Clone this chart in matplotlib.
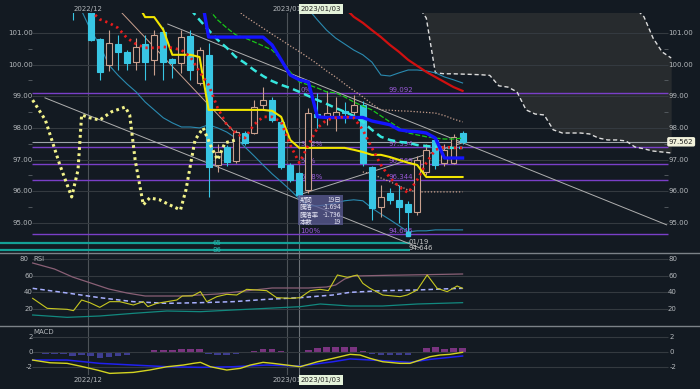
import matplotlib
matplotlib.use("Agg")
import matplotlib.pyplot as plt
from matplotlib.patches import Rectangle
from matplotlib.lines import Line2D

plt.rcParams['font.family'] = ['DejaVu Sans', 'Noto Sans CJK JP']

# ---------------- data ----------------
# bar index k (0 = first bar of 2022/12)
candle_k = list(range(-2, 42))
opens = [101.95, 102.30, 101.95, 100.81, 100.00, 100.65, 100.40, 100.08, 100.65, 100.15,
         101.03, 100.18, 100.05, 100.90, 99.42, 100.30, 96.83, 97.40, 96.95, 97.84,
         97.84, 98.73, 98.88, 98.19, 96.83, 96.58, 96.04, 98.44, 98.35, 98.35,
         98.54, 98.51, 98.73, 96.77, 95.51, 95.95, 95.73, 95.60, 95.35, 96.61,
         97.62, 96.90, 96.90, 97.84]
highs = [102.10, 102.50, 102.00, 100.85, 101.09, 100.94, 100.45, 100.84, 100.93, 101.10,
         101.20, 100.20, 101.10, 101.10, 100.55, 100.68, 97.50, 97.45, 97.95, 97.90,
         98.88, 99.29, 98.98, 98.25, 96.90, 96.62, 98.63, 99.11, 99.17, 98.98,
         98.82, 99.05, 98.85, 96.80, 96.20, 96.10, 96.20, 95.70, 97.10, 97.50,
         97.70, 97.50, 97.80, 97.90]
lows = [101.42, 101.80, 100.76, 99.52, 99.80, 99.83, 99.83, 99.83, 99.52, 99.67,
        99.52, 99.57, 99.74, 99.52, 99.35, 95.82, 96.60, 96.80, 96.90, 97.45,
        97.80, 98.57, 98.20, 96.70, 96.30, 95.82, 95.95, 98.00, 98.10, 97.90,
        98.16, 98.30, 96.80, 95.10, 95.19, 95.60, 95.00, 94.646, 95.25, 96.50,
        96.70, 96.80, 96.85, 97.50]
closes = [101.70, 102.00, 100.78, 99.77, 100.68, 100.40, 100.05, 100.55, 100.08, 100.94,
          100.08, 100.05, 100.87, 99.83, 100.46, 96.77, 97.24, 96.93, 97.87, 97.53,
          98.66, 98.88, 98.25, 96.77, 96.36, 95.88, 98.47, 98.35, 98.47, 98.51,
          98.47, 98.73, 96.90, 95.47, 95.82, 95.73, 95.51, 95.35, 96.99, 97.31,
          96.83, 97.31, 97.72, 97.562]
last_price = 97.562

ma5_k = list(range(0, 42))
ma5 = [101.70, 101.43, 101.32, 101.16, 100.84, 100.65, 100.53, 100.53, 100.56, 100.53,
       100.46, 100.24, 99.77, 99.36, 98.63, 98.10, 97.84, 97.68, 98.10, 98.35,
       98.35, 98.19, 97.46, 96.90, 97.46, 98.00, 98.25, 98.32, 98.35, 98.32,
       97.94, 97.37, 96.83, 96.42, 96.14, 95.95, 96.36, 96.90, 97.31, 97.40,
       97.37, 97.37]

tenkan_k = list(range(5, 42))
tenkan = [102.00, 101.50, 101.50, 101.10, 100.31, 100.31, 100.31, 100.24, 98.57, 98.57,
          98.57, 98.57, 98.57, 98.57, 98.57, 98.54, 98.35, 97.62, 97.37, 97.37,
          97.37, 97.37, 97.37, 97.37, 97.31, 97.24, 97.15, 97.15, 97.08, 96.99,
          96.90, 96.83, 96.45, 96.45, 96.45, 96.45, 96.45]

kijun_k = list(range(12, 42))
kijun = [102.50, 100.87, 100.87, 100.87, 100.87, 100.87, 100.87, 100.87, 100.62, 100.15,
         99.67, 99.52, 99.45, 98.35, 98.33, 98.33, 98.33, 98.33, 98.33, 98.22,
         98.16, 98.10, 97.94, 97.90, 97.88, 97.84, 97.68, 97.05, 97.05, 97.05]

ma25_k = list(range(13, 42))
ma25 = [101.75, 101.41, 101.16, 100.94, 100.84, 100.72, 100.59, 100.46, 100.15, 99.77,
        99.45, 99.36, 99.26, 99.14, 99.11, 98.98, 98.82, 98.69, 98.57, 98.38,
        98.19, 98.00, 97.84, 97.78, 97.72, 97.68, 97.65, 97.65, 97.68]

ma_cyan_k = list(range(11, 42))
ma_cyan = [101.75, 101.41, 101.09, 100.78, 100.53, 100.24, 100.05, 99.83, 99.64, 99.48,
           99.36, 99.26, 99.14, 99.01, 98.88, 98.76, 98.63, 98.51, 98.38, 98.19,
           97.94, 97.72, 97.62, 97.56, 97.53, 97.46, 97.43, 97.40, 97.37, 97.37,
           97.37]

ma75_k = list(range(28, 42))
ma75 = [101.80, 101.51, 101.32, 101.09, 100.87, 100.62, 100.40, 100.15, 99.96, 99.77,
        99.61, 99.45, 99.29, 99.17]

bb_up2_k = list(range(24, 42))
bb_up2 = [101.75, 101.41, 101.09, 100.84, 100.65, 100.46, 100.31, 100.08, 99.67, 99.64,
          99.74, 99.83, 99.83, 99.80, 99.74, 99.61, 99.52, 99.42]

bb_up1_k = list(range(16, 42))
bb_up1 = [101.75, 101.53, 101.34, 101.15, 100.96, 100.78, 100.59, 100.41, 100.22, 100.02,
          99.80, 99.61, 99.39, 99.18, 98.98, 98.76, 98.57, 98.56, 98.54, 98.53,
          98.51, 98.49, 98.47, 98.39, 98.28, 98.19]

bb_lo2_k = list(range(-1, 42))
bb_lo2 = [101.70, 101.09, 100.62, 99.99, 99.67, 99.39, 99.14, 98.82, 98.57, 98.32,
          98.16, 98.03, 98.03, 98.00, 98.10, 98.00, 97.87, 97.68, 97.40, 97.12,
          96.83, 96.55, 96.30, 96.04, 95.76, 95.54, 95.54, 95.57, 95.63, 95.70,
          95.73, 95.70, 95.47, 95.28, 95.10, 94.91, 94.72, 94.75, 94.75, 94.78,
          94.78, 94.78, 94.78]

bb_lo1_k = list(range(30, 42))
bb_lo1 = [96.61, 96.55, 96.42, 96.30, 96.17, 96.04, 95.98, 95.98, 95.98, 95.98,
          95.98, 95.98]

chikou_k = [-6.4, -5.0, -3.4, -2.1, -1.4, -1.0, -0.1, 1.0, 2.3, 3.8, 4.3, 4.9, 5.8,
            6.5, 7.6, 8.7, 9.9, 10.5, 11.5, 12.4, 13.2, 14.0, 14.8, 16.0]
chikou = [98.88, 98.25, 96.83, 95.82, 96.67, 98.41, 98.32, 98.25, 98.51, 98.66, 98.41,
          96.99, 95.57, 95.79, 95.73, 95.57, 95.41, 96.04, 97.62, 98.00, 97.46, 96.99,
          97.53, 97.62]

cloud_k = list(range(36, 65))
span_a = [104.0, 103.9, 103.8, 103.7, 103.6, 103.5, 103.4, 103.3, 103.2, 103.1,
          103.0, 102.9, 102.8, 102.7, 102.6, 102.5, 102.4, 102.3, 102.2, 102.1,
          102.0, 101.95, 101.9, 101.85, 101.8, 101.51, 100.84, 100.40, 100.21]
span_b = [101.90, 101.47, 99.74, 99.71, 99.71, 99.70, 99.69, 99.68, 99.66, 99.33,
          99.29, 99.14, 98.57, 98.44, 98.41, 97.94, 97.84, 97.84, 97.84, 97.81,
          97.68, 97.62, 97.62, 97.59, 97.40, 97.34, 97.27, 97.24, 97.21]

# trend lines: (k0, p0, k1, p1)
trend_lines = [(-5.04, 98.95, 36.3, 94.21),
               (8.5, 101.28, 63.5, 94.94),
               (22.9, 95.88, 41.0, 97.53)]
tan_line = (3.45, 101.63, 16.46, 97.68)

fib_pct = ['0%', '38.2%', '50%', '61.8%', '100%']
fib_val = [99.092, 97.394, 96.869, 96.344, 94.646]
teal_levels = [94.37, 94.15]
teal_labels = ['65', '86']

box_rows = [('期間', '19日'), ('騰落', '-1.694'), ('騰落率', '-1.736'), ('本数', '19')]

price_ticks = [95, 96, 97, 98, 99, 100, 101]
date_k = [-0.35, 21.65, 23.0]
date_labels = ['2022/12', '2023/01', '2023/01/03']

rsi_a_k = [-6.4, -4.0, -2.0, 0, 2, 4, 6, 8, 10, 12, 14, 16, 18, 20, 22, 24, 26, 27, 28, 29, 33, 37, 41]
rsi_a = [75.2, 68, 58.4, 51.2, 44, 39.2, 35.6, 35.6, 35.6, 36.8, 38, 40.4, 42.8, 45.2, 45.2,
         45.2, 46.4, 48.8, 56, 59.6, 60.5, 61.2, 62]
rsi_b_k = [-6.4, -4.8, -2.6, -1.9, -1.0, -0.1, 1.0, 2.1, 3.2, 4.7, 5.8, 6.3, 7.3, 8.4, 9.5,
           10.1, 11.2, 12.1, 12.8, 13.9, 15.0, 16.1, 17.2, 18.3, 19.4, 20.5, 22.0, 23.1,
           24.2, 25.3, 26.2, 27.2, 28.3, 29.4, 30.0, 30.8, 32.2, 34.1, 34.9, 36.0, 37.1,
           38.2, 39.3, 40.4, 41.0]
rsi_b = [32.8, 20.8, 19.6, 18.0, 30.8, 27.6, 22.0, 28.8, 28.8, 24.8, 28.8, 22.8, 26.8, 28.8,
         30.8, 35.6, 35.6, 40.8, 28.8, 34.8, 37.6, 36.8, 43.6, 42.8, 42.0, 33.6, 32.8, 33.6,
         42.0, 43.6, 42.0, 60.8, 58.0, 60.8, 50.8, 44.8, 36.8, 34.8, 36.8, 42.8, 60.8,
         44.8, 40.8, 47.6, 44.8]
rsi_sig_k = [-6.4, -2.6, 1.0, 4.7, 8.4, 12.1, 15.7, 19.4, 23.1, 26.7, 28.6, 32.2, 36.0, 39.6, 41.0]
rsi_sig = [44.8, 39.2, 33.6, 28.8, 26.8, 27.6, 28.8, 31.6, 33.6, 36.8, 40.0, 42.0, 42.8, 44.4, 44.8]
rsi_c_k = [-6.4, -2.6, 1.0, 4.7, 8.4, 12.1, 15.7, 19.4, 23.1, 25.3, 28.6, 32.2, 36.0, 41.0]
rsi_c = [12.8, 10.0, 11.6, 14.8, 17.6, 16.8, 18.8, 20.8, 22.8, 26.0, 23.6, 23.6, 26.0, 27.6]

macd_k = [-6.4, -4.5, -2.6, -1.2, 0.7, 2.1, 4.7, 6.5, 8.4, 10.2, 11.3, 12.1, 13.2, 15.0,
          16.5, 17.6, 19.0, 20.1, 21.6, 23.1, 25.0, 26.7, 28.6, 29.7, 30.8, 32.2, 34.1,
          35.2, 36.3, 37.4, 38.5, 39.6, 41.0]
macd = [-1.05, -1.40, -1.48, -1.83, -2.35, -2.79, -2.66, -2.35, -1.92, -1.70, -1.48, -1.35,
        -1.92, -2.35, -2.13, -1.70, -1.35, -1.48, -1.70, -1.92, -1.27, -0.83, -0.30, -0.39,
        -0.83, -1.27, -1.48, -1.48, -1.05, -0.61, -0.39, -0.30, -0.04]
signal_k = [-6.4, -2.6, 1.0, 4.7, 8.4, 12.1, 15.7, 19.4, 23.1, 26.7, 28.6, 32.2, 35.2, 37.4, 41.0]
signal = [-1.05, -1.05, -1.48, -1.70, -1.92, -2.00, -1.92, -1.70, -1.83, -1.27, -0.90, -1.13,
          -1.35, -0.96, -0.52]
hist_k = list(range(-6, 42))
hist = [-0.10, -0.20, -0.25, -0.30, -0.50, -0.40, -0.50, -0.80, -0.60, -0.50, -0.35, -0.10,
        0.02, 0.25, 0.25, 0.25, 0.45, 0.35, 0.45, -0.25, -0.40, -0.45, -0.20, -0.05,
        0.20, 0.40, 0.40, 0.10, 0.02, -0.10, 0.30, 0.55, 0.60, 0.60, 0.65, 0.70,
        0.15, -0.30, -0.40, -0.40, -0.40, -0.40, -0.05, 0.50, 0.60, 0.45, 0.55, 0.50]

# ---------------- style ----------------
W, H = 700, 389
X0, DX = 90.7, 9.07          # pixel of bar 0 and bar spacing
KL, KR = -X0 / DX, (W - X0) / DX
G0, G1 = (32 - X0) / DX, (668 - X0) / DX   # grid span
BG = '#131a22'
GRID = '#343a40'
TXT = '#b4b8bc'
UP_EDGE = '#c9a08e'
DOWN = '#38c6e4'
PURPLE = '#7a3fc8'


def fy(y):
    return 1 - y / H


def kx(k):
    return (X0 + DX * k) / W


fig = plt.figure(figsize=(7, 3.89), dpi=100, facecolor=BG)
ax = fig.add_axes([0, fy(253), 1, (253 - 13) / H])
ax_rsi = fig.add_axes([0, fy(326), 1, (326 - 253) / H])
ax_macd = fig.add_axes([0, fy(375), 1, (375 - 326) / H])
for a in (ax, ax_rsi, ax_macd):
    a.set_axis_off()
    a.set_xlim(KL, KR)
ax.set_ylim(94.05, 101.63)
ax_rsi.set_ylim(-0.4, 87.2)
ax_macd.set_ylim(-3.0, 3.4)

# ---------------- main panel ----------------
ax.fill_between(cloud_k, span_b, span_a, color='#272b2e', zorder=0, lw=0)
ax.plot(cloud_k, span_b, color='#dcdcdc', lw=1, ls=(0, (3, 2)), zorder=1)
ax.plot(cloud_k, span_a, color='#dcdcdc', lw=1, ls=(0, (3, 2)), zorder=1)

for p in price_ticks:
    ax.hlines(p, G0, G1, color=GRID, lw=0.8, zorder=0.5)
    ax.text(-6.36, p, f'{p:.2f}', color=TXT, fontsize=5, ha='right', va='center')
    ax.text(G1, p, f'{p:.2f}', color=TXT, fontsize=5, ha='left', va='center')
for p in price_ticks[:-1]:
    ax.hlines(p + 0.5, G0 - 0.4, G0, color='#5a6066', lw=0.6)
    ax.hlines(p + 0.5, G1 - 0.4, G1, color='#5a6066', lw=0.6)

for pct, v in zip(fib_pct, fib_val):
    ax.hlines(v, G0, G1, color=PURPLE, lw=1, zorder=0.6)
    ax.text(23.1, v, pct, color='#9a5ad8', fontsize=5, va='bottom', ha='left')
    ax.text(32.8, v, f'{v:.3f}', color='#9a5ad8', fontsize=5, va='bottom', ha='left')

for lv, lab in zip(teal_levels, teal_labels):
    ax.hlines(lv, KL, 35.2, color='#14a096', lw=1.6, zorder=0.6)
    ax.text(13.9, lv, lab, color='#2ab8b0', fontsize=5, ha='center', va='center')

ax.hlines(last_price, G0, G1, color='#9ea4aa', lw=0.8, zorder=0.7)

for (k0, p0, k1, p1) in trend_lines:
    ax.plot([k0, k1], [p0, p1], color='#b0b0b0', lw=0.7, zorder=2)
ax.plot([tan_line[0], tan_line[2]], [tan_line[1], tan_line[3]], color=UP_EDGE, lw=0.7, zorder=2)

for k, o, h, l, c in zip(candle_k, opens, highs, lows, closes):
    if c >= o:
        ax.vlines(k, l, h, color=UP_EDGE, lw=0.8, zorder=3)
        ax.add_patch(Rectangle((k - 0.33, o), 0.66, max(c - o, 0.02), facecolor=BG,
                               edgecolor=UP_EDGE, lw=0.8, zorder=3.1))
    else:
        ax.vlines(k, l, h, color=DOWN, lw=0.8, zorder=3)
        ax.add_patch(Rectangle((k - 0.33, c), 0.66, max(o - c, 0.02), facecolor=DOWN,
                               edgecolor=DOWN, lw=0.8, zorder=3.1))

ax.plot(bb_up1_k, bb_up1, color=UP_EDGE, lw=0.9, ls=(0, (1, 1.5)), zorder=2)
ax.plot(bb_lo1_k, bb_lo1, color=UP_EDGE, lw=0.9, ls=(0, (1, 1.5)), zorder=2)
ax.plot(bb_up2_k, bb_up2, color='#2a8ab0', lw=0.8, zorder=2)
ax.plot(bb_lo2_k, bb_lo2, color='#2a8ab0', lw=0.8, zorder=2)
ax.plot(chikou_k, chikou, color='#f2f28a', lw=2.2, ls=(0, (0.9, 1.1)), zorder=4)
ax.plot(ma75_k, ma75, color='#d01010', lw=1.6, zorder=4)
ax.plot(ma25_k, ma25, color='#18c818', lw=0.9, ls=(0, (4, 1.5)), zorder=4)
ax.plot(ma_cyan_k, ma_cyan, color='#36e6de', lw=1.8, ls=(0, (3, 1.8)), zorder=4)
ax.plot(kijun_k, kijun, color='#1414ff', lw=2.4, zorder=4.2)
ax.plot(tenkan_k, tenkan, color='#f2e600', lw=1.5, zorder=4.3)
ax.plot(ma5_k, ma5, color='#e81c1c', lw=2, ls=(0, (0.8, 1.4)), zorder=4.4)

ax.plot([35], [lows[candle_k.index(35)]], 's', color=DOWN, ms=2.5, zorder=5)
ax.text(35.0, 94.40, '01/19', color='#c8c8c8', fontsize=5, ha='left', va='center')
ax.text(35.0, 94.20, f'{lows[candle_k.index(35)]:.3f}', color='#c8c8c8', fontsize=5,
        ha='left', va='center')

ax.text(G1 + 0.1, last_price, f'{last_price:.3f}', color='#222222', fontsize=5, ha='left',
        va='center', zorder=6,
        bbox=dict(boxstyle='round,pad=0.25', facecolor='#f2f2dc', edgecolor='none'))

# measurement box
fig.patches.append(Rectangle((298 / W, fy(225)), 45 / W, 30 / H, transform=fig.transFigure,
                             facecolor='#5c5c96', alpha=0.75, edgecolor='none', zorder=10))
for i, (lab, val) in enumerate(box_rows):
    yy = fy(200 + i * 7.3)
    fig.text(300 / W, yy, lab, color='#e6e6f4', fontsize=4.6, va='center', ha='left',
             family=['Noto Sans CJK JP', 'DejaVu Sans'], zorder=11)
    fig.text(341 / W, yy, val, color='#e6e6f4', fontsize=4.6, va='center', ha='right',
             family=['Noto Sans CJK JP', 'DejaVu Sans'], zorder=11)

# ---------------- RSI ----------------
for v in [20, 40, 60, 80]:
    ax_rsi.hlines(v, G0, G1, color=GRID, lw=0.8)
    ax_rsi.text(G1, v, str(v), color=TXT, fontsize=5, ha='left', va='center')
    if v != 80:
        ax_rsi.text(-6.36, v, str(v), color=TXT, fontsize=5, ha='right', va='center')
ax_rsi.text(-6.9, 80, '80', color=TXT, fontsize=5, ha='right', va='center')
ax_rsi.text(-6.3, 80, 'RSI', color=TXT, fontsize=5, ha='left', va='center')
ax_rsi.plot(rsi_a_k, rsi_a, color='#8a6076', lw=0.9)
ax_rsi.plot(rsi_c_k, rsi_c, color='#12897f', lw=0.9)
ax_rsi.plot(rsi_sig_k, rsi_sig, color='#a8b0ff', lw=1.1, ls=(0, (3, 2)))
ax_rsi.plot(rsi_b_k, rsi_b, color='#c8c820', lw=0.8)

# ---------------- MACD ----------------
for v in [-2, 0, 2]:
    ax_macd.hlines(v, G0, G1, color=GRID, lw=0.8)
    ax_macd.text(G1 + 0.2, v, str(v), color=TXT, fontsize=5, ha='left', va='center')
    ax_macd.text(-6.36, v, str(v), color=TXT, fontsize=5, ha='right', va='center')
ax_macd.text(-6.3, 2.6, 'MACD', color=TXT, fontsize=5, ha='left', va='center')
ax_macd.bar(hist_k, hist, width=0.72,
            color=['#7a3480' if h > 0 else '#3e3e92' for h in hist], zorder=1)
ax_macd.plot(signal_k, signal, color='#2020f0', lw=1.1, zorder=2)
ax_macd.plot(macd_k, macd, color='#d4d420', lw=1.0, zorder=2)

# ---------------- date lines / labels ----------------
for i, (k, lab) in enumerate(zip(date_k, date_labels)):
    col = '#6c7278' if i == 2 else '#4c5258'
    for a in (ax, ax_rsi, ax_macd):
        a.axvline(k, color=col, lw=0.8, zorder=0.4)
    for y in (9, 380):
        if i == 2:
            fig.text(kx(k) + 1 / W, fy(y), lab, color='#222222', fontsize=5, ha='left',
                     va='center', bbox=dict(boxstyle='square,pad=0.25',
                                            facecolor='#e4f2da', edgecolor='none'))
        else:
            fig.text(kx(k), fy(y), lab, color=TXT, fontsize=5, ha='center', va='center')

for y in (253, 326):
    fig.add_artist(Line2D([0, 1], [fy(y), fy(y)], color='#7c8288', lw=1))

fig.savefig('out.png', dpi=100, facecolor=BG)
